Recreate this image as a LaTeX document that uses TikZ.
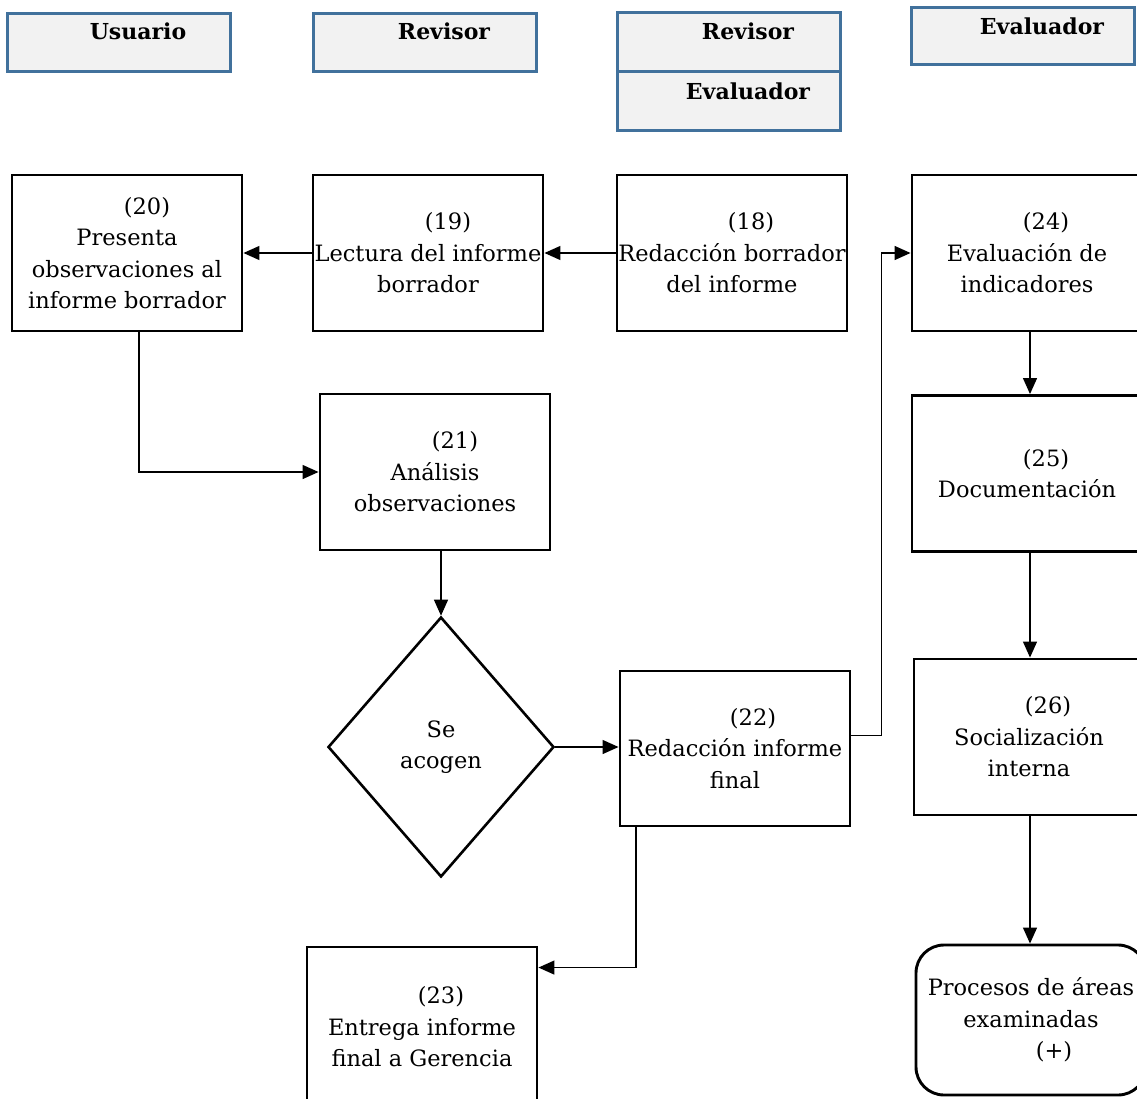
\documentclass[tikz,border=0pt]{standalone}
\usepackage{fontspec}
\setmainfont{DejaVu Serif}
\usetikzlibrary{arrows.meta,shapes.geometric}
\definecolor{hdrfill}{HTML}{F2F2F2}
\definecolor{hdrline}{HTML}{41719C}
\tikzset{
  hdr/.style={draw=hdrline,fill=hdrfill,line width=3pt,inner sep=0pt,minimum width=223pt,minimum height=58pt},
  hdrtxt/.style={inner sep=0pt,font=\fontsize{22}{26}\selectfont\bfseries},
  proc/.style={draw,line width=2.9pt,inner sep=0pt,minimum width=230pt,minimum height=156pt,align=center,font=\fontsize{22.5}{31.5}\selectfont},
  decide/.style={draw,diamond,line width=2.6pt,inner sep=0pt,minimum width=226pt,minimum height=260pt,align=center,font=\fontsize{22.5}{31.5}\selectfont},
  term/.style={proc,rounded corners=28pt,minimum height=150pt},
  arr/.style={line width=1.3pt,-{Triangle[length=16pt,width=14pt]}}
}
\begin{document}
\begin{tikzpicture}[x=1pt,y=-1pt]
\clip (0,0) rectangle (1137,1099);
\fill[white] (0,0) rectangle (1137,1099);

% lane headers
\node[hdr] (husu) at (118.5,42.5) {};
\node[hdrtxt] (tusu) at (138,31) {Usuario};
\node[hdr] (hrev) at (425,42.5) {};
\node[hdrtxt] (trev) at (444,31) {Revisor};
\node[hdr,minimum height=59pt] (hrevb) at (729,42.5) {};
\node[hdrtxt] (trevb) at (748,31) {Revisor};
\node[hdr,minimum height=59pt] (hevab) at (729,101.5) {};
\node[hdrtxt] (tevab) at (748,91) {Evaluador};
\node[hdr,minimum height=57pt] (heva) at (1022.5,36.5) {};
\node[hdrtxt] (teva) at (1042,26) {Evaluador};

% process steps
\node[proc] (n20) at (127,253) {\hspace*{40pt}(20)\\Presenta\\observaciones al\\informe borrador};
\node[proc] (n19) at (428,253) {\hspace*{40pt}(19)\\Lectura del informe\\borrador};
\node[proc] (n18) at (732,253) {\hspace*{38pt}(18)\\Redacción borrador\\del informe};
\node[proc] (n24) at (1027,253) {\hspace*{38pt}(24)\\Evaluación de\\indicadores};
\node[proc] (n21) at (435,472) {\hspace*{40pt}(21)\\Análisis\\observaciones};
\node[proc] (n25) at (1027,473.5) {\hspace*{38pt}(25)\\Documentación};
\node[decide] (dec) at (441,747) {Se\\acogen};
\node[proc,minimum height=155pt] (n22) at (735,748.5) {\hspace*{36pt}(22)\\Redacción informe\\final};
\node[proc] (n26) at (1029,737) {\hspace*{38pt}(26)\\Socialización\\interna};
\node[proc,minimum height=160pt] (n23) at (422,1027) {\hspace*{38pt}(23)\\Entrega informe\\final a Gerencia};
\node[term] (fin) at (1031,1020) {Procesos de áreas\\examinadas\\\hspace*{46pt}(+)};

% connectors
\draw[arr] (n18.west) -- (n19.east);
\draw[arr] (n19.west) -- (n20.east);
\draw[arr] ([xshift=12pt]n20.south) |- (n21.west);
\draw[arr] (n21.south -| dec.north) -- (dec.north);
\draw[arr] (dec.east) -- (dec.east -| n22.west);
\draw[arr] ([yshift=13pt]n22.east) -- ++(30,0) |- (n24.west);
\draw[arr] ([xshift=-99pt]n22.south) |- ([yshift=-22pt]n23.north east);
\draw[arr] ([xshift=3pt]n24.south) -- ([xshift=3pt]n24.south |- n25.north);
\draw[arr] ([xshift=3pt]n25.south) -- ([xshift=3pt]n25.south |- n26.north);
\draw[arr] ([xshift=1pt]n26.south) -- ([xshift=1pt]n26.south |- fin.north);
\end{tikzpicture}
\end{document}
